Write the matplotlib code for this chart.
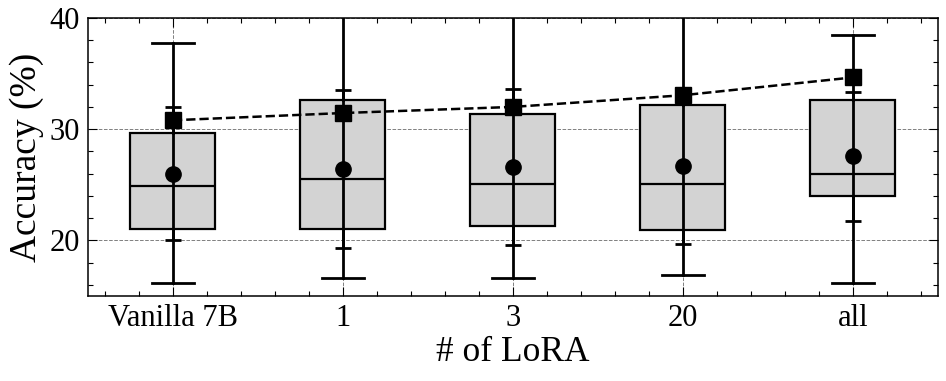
import matplotlib
matplotlib.use("Agg")
import matplotlib.pyplot as plt
from matplotlib.ticker import MultipleLocator

# values
labels = ["Vanilla 7B", "1", "3", "20", "all"]
q1 = [21.05, 21.05, 21.3, 20.9, 23.95]
med = [24.85, 25.5, 25.05, 25.1, 25.95]
q3 = [29.65, 32.65, 31.35, 32.2, 32.65]
whis_lo = [16.2, 16.65, 16.65, 16.85, 16.2]
whis_hi = [37.7, 45.0, 45.0, 45.0, 38.45]   # 1/3/20 run off the top
mean = [26.0, 26.45, 26.6, 26.7, 27.55]
std = [6.0, 7.1, 7.05, 7.0, 5.8]
best = [30.8, 31.45, 32.0, 33.05, 34.65]

plt.rcParams['font.family'] = ['Liberation Serif', 'DejaVu Serif']
plt.rcParams['mathtext.fontset'] = 'stix'

fig = plt.figure(figsize=(9.46, 3.81), dpi=100)
ax = fig.add_axes([0.093, 0.223, 0.8985, 0.730])

pos = list(range(len(labels)))
stats = []
for i in pos:
    stats.append(dict(q1=q1[i], med=med[i], q3=q3[i],
                      whislo=whis_lo[i], whishi=whis_hi[i], fliers=[]))

ax.bxp(stats, positions=pos, widths=0.5, patch_artist=True, showfliers=False,
       boxprops=dict(facecolor='lightgray', edgecolor='black', linewidth=1.6),
       medianprops=dict(color='black', linewidth=1.6),
       whiskerprops=dict(color='black', linewidth=2.0),
       capprops=dict(color='black', linewidth=2.0))

ax.errorbar(pos, mean, yerr=std, fmt='o', color='black', markersize=11,
            capsize=6, elinewidth=2.0, capthick=2.0, zorder=4)
ax.plot(pos, best, 's--', color='black', markersize=11, linewidth=1.8, zorder=5)

ax.set_xlim(-0.5, 4.5)
ax.set_ylim(15, 40)
ax.set_xticks(pos)
ax.set_xticklabels(labels)
ax.xaxis.set_minor_locator(MultipleLocator(0.2))
ax.yaxis.set_major_locator(MultipleLocator(10))
ax.yaxis.set_minor_locator(MultipleLocator(2))
ax.tick_params(which='both', direction='in', top=True, right=True, labelsize=22, width=0.8)
ax.tick_params(which='major', length=6.5, pad=6)
ax.tick_params(which='minor', length=3.5)
for s in ax.spines.values():
    s.set_linewidth(1.1)

ax.grid(True, which='major', linestyle='--', color='gray', linewidth=0.7)
ax.set_axisbelow(True)

ax.set_xlabel("# of LoRA", fontsize=25.5, labelpad=2)
ax.set_ylabel("Accuracy (%)", fontsize=27, labelpad=4)

fig.savefig("out.png", dpi=100)
